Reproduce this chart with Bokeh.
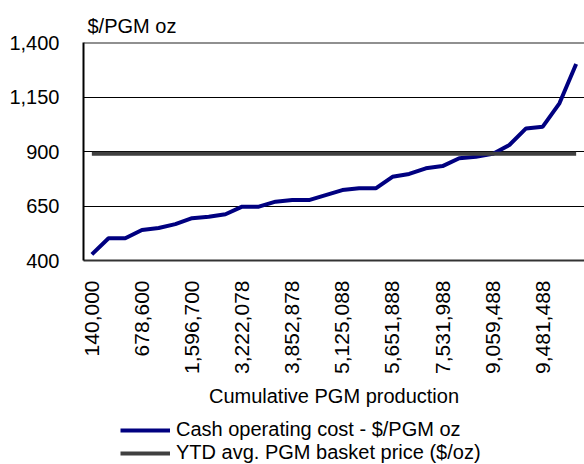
from bokeh.plotting import figure
from bokeh.layouts import column
from bokeh.models import (ColumnDataSource, FixedTicker, NumeralTickFormatter, Span,
                          Legend, LegendItem, Range1d)
from bokeh.embed import file_html
from bokeh.resources import INLINE

# --- data ---
tick_labels = ["140,000", "678,600", "1,596,700", "3,222,078", "3,852,878",
               "5,125,088", "5,651,888", "7,531,988", "9,059,488", "9,481,488"]
cash_cost = [428, 502, 502, 540, 549, 567, 594, 601, 612, 647,
             647, 670, 677, 677, 700, 723, 731, 731, 784, 797,
             823, 833, 869, 876, 889, 930, 1006, 1014, 1121, 1301]
basket_price = [890] * len(cash_cost)
mine_index = list(range(len(cash_cost)))
y_ticks = [400, 650, 900, 1150, 1400]
series_names = ["Cash operating cost - $/PGM oz", "YTD avg. PGM basket price ($/oz)"]
series_cols = ["cost", "basket"]
series_colors = ["#000080", "#404040"]

FONT = "Liberation Sans"

src = ColumnDataSource(dict(x=mine_index, cost=cash_cost, basket=basket_price))

p = figure(frame_width=501, frame_height=218, output_backend="svg", toolbar_location=None,
           x_range=Range1d(-0.5, len(cash_cost) - 0.5), y_range=Range1d(400, 1400),
           min_border_left=83, min_border_right=0, min_border_top=42, min_border_bottom=160)

p.title.text = "$/PGM oz"
p.title.text_font = FONT
p.title.text_font_size = "20px"
p.title.text_font_style = "normal"
p.title.text_color = "black"
p.title.align = "left"
p.title.offset = 4
p.title.standoff = 11

for col, color in zip(series_cols, series_colors):
    p.line("x", col, source=src, line_color=color, line_width=4)

p.outline_line_color = None
p.background_fill_color = "white"
p.border_fill_color = "white"

# y axis
p.yaxis.ticker = FixedTicker(ticks=y_ticks)
p.yaxis.formatter = NumeralTickFormatter(format="0,0")
p.yaxis.major_tick_line_color = None
p.yaxis.minor_tick_line_color = None
p.yaxis.axis_line_color = "black"
p.yaxis.axis_line_width = 2
p.yaxis.major_label_text_font = FONT
p.yaxis.major_label_text_font_size = "20px"
p.yaxis.major_label_text_color = "black"
p.yaxis.major_label_standoff = 18

# x axis
p.xaxis.ticker = FixedTicker(ticks=mine_index[::3])
p.xaxis.major_label_overrides = {i: lab for i, lab in zip(mine_index[::3], tick_labels)}
p.xaxis.major_label_orientation = 3.14159265 / 2
p.xaxis.major_tick_line_color = None
p.xaxis.minor_tick_line_color = None
p.xaxis.axis_line_color = "#333333"
p.xaxis.axis_line_width = 2
p.xaxis.major_label_text_font = FONT
p.xaxis.major_label_text_font_size = "21px"
p.xaxis.major_label_text_color = "black"
p.xaxis.major_label_standoff = 14
p.xaxis.axis_label = "Cumulative PGM production"
p.xaxis.axis_label_text_font = FONT
p.xaxis.axis_label_text_font_size = "20px"
p.xaxis.axis_label_text_font_style = "normal"
p.xaxis.axis_label_text_color = "black"
p.xaxis.axis_label_standoff = 8

p.xgrid.grid_line_color = None
p.ygrid.ticker = FixedTicker(ticks=y_ticks)
p.ygrid.grid_line_color = "black"
p.ygrid.grid_line_width = 1

p.add_layout(Span(location=1400, dimension="width", line_color="#222222", line_width=2))

# legend panel below the chart (series drawn out of view; only legend shows)
lf = figure(width=584, height=44, output_backend="svg", toolbar_location=None,
            x_axis_location=None, y_axis_location=None,
            x_range=Range1d(1000, 1001), y_range=Range1d(0, 1),
            min_border_left=0, min_border_right=0, min_border_top=0, min_border_bottom=0)
lf.title.visible = False
lf.grid.visible = False
lf.outline_line_color = None
lf.background_fill_color = "white"
lf.border_fill_color = "white"
items = []
for name, col, color in zip(series_names, series_cols, series_colors):
    r = lf.line("x", col, source=src, line_color=color, line_width=4)
    items.append(LegendItem(label=name, renderers=[r]))

legend = Legend(items=items, location=(37, 0), orientation="vertical")
legend.border_line_color = None
legend.background_fill_alpha = 0
legend.label_text_font = FONT
legend.label_text_font_size = "20px"
legend.label_text_color = "black"
legend.glyph_width = 50
legend.glyph_height = 22
legend.label_height = 22
legend.label_standoff = 6
legend.spacing = 0
legend.padding = 0
legend.margin = 0
lf.add_layout(legend, "center")

layout = column(p, lf, spacing=0)

open("out.html", "w").write(file_html(layout, INLINE))
